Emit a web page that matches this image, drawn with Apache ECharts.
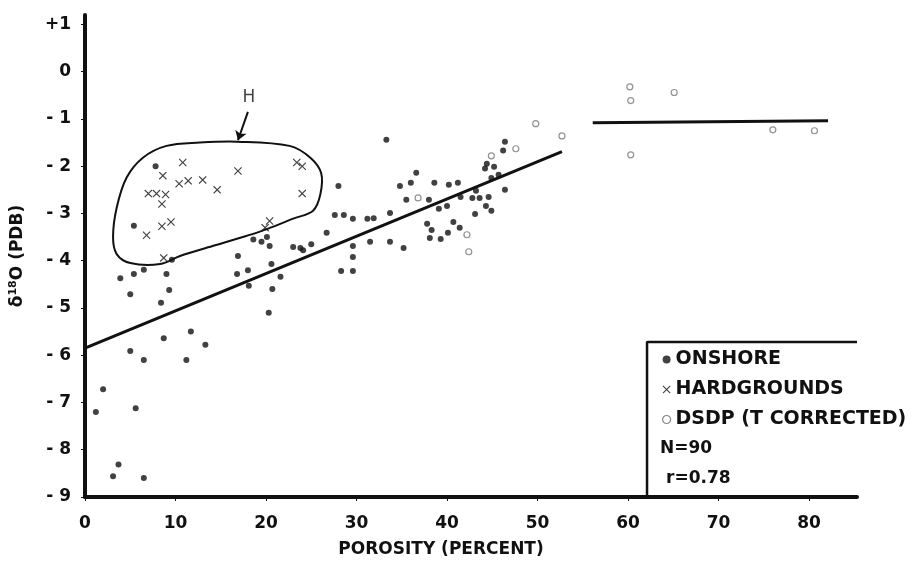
<!DOCTYPE html>
<html>
<head>
<meta charset="utf-8">
<script src="https://cdn.jsdelivr.net/npm/echarts@6/dist/echarts.min.js"></script>
<style>
  html, body { margin: 0; padding: 0; background: #fff; }
  #chart { width: 923px; height: 568px; }
</style>
</head>
<body>
<div id="chart"></div>
<script>
// porosity (%) vs d18O (PDB)
var onshore = [
  [7.8, -2.0], [5.4, -3.26], [9.6, -3.98], [3.9, -4.37], [5.4, -4.28], [6.5, -4.19], [9.0, -4.28],
  [5.0, -4.71], [9.3, -4.62], [16.9, -3.9], [16.8, -4.28], [18.0, -4.2], [18.1, -4.53], [20.6, -4.07],
  [21.6, -4.34], [20.7, -4.6], [18.6, -3.55], [19.5, -3.6], [20.1, -3.5], [20.4, -3.69], [23.0, -3.71],
  [23.8, -3.73], [24.1, -3.78], [25.0, -3.65],
  [8.4, -4.89], [20.3, -5.1], [8.7, -5.64], [11.7, -5.5], [13.3, -5.78], [5.0, -5.91], [6.5, -6.1],
  [11.2, -6.1], [2.0, -6.72], [1.2, -7.2], [5.6, -7.12], [3.7, -8.31], [3.1, -8.56], [6.5, -8.6],
  [33.3, -1.44], [28.0, -2.42], [27.6, -3.03], [28.6, -3.03], [29.6, -3.11], [31.2, -3.11], [31.9, -3.1],
  [33.7, -2.99], [26.7, -3.41], [29.6, -3.69], [29.6, -3.92], [28.3, -4.22], [29.6, -4.22], [31.5, -3.6],
  [33.7, -3.6], [35.2, -3.73], [34.8, -2.42], [36.0, -2.35], [36.6, -2.14], [35.5, -2.71], [38.0, -2.71],
  [38.6, -2.35], [40.2, -2.39], [41.2, -2.35], [39.1, -2.9], [40.0, -2.84], [37.8, -3.22], [38.3, -3.35],
  [40.7, -3.18], [41.4, -3.3], [38.1, -3.52], [39.3, -3.54], [40.1, -3.41], [41.5, -2.65], [42.8, -2.67],
  [43.2, -2.52], [43.6, -2.67], [44.3, -2.84], [44.6, -2.65], [43.1, -3.01], [44.9, -2.94], [46.4, -2.5],
  [44.4, -1.95], [45.2, -2.01], [44.9, -2.25], [45.7, -2.18], [44.2, -2.05], [46.4, -1.48], [46.2, -1.67]
]
var hardgrounds = [
  [10.8, -1.92], [8.6, -2.2], [10.4, -2.37], [11.4, -2.31], [13.0, -2.29], [14.6, -2.5], [16.9, -2.1],
  [7.0, -2.58], [7.9, -2.58], [8.9, -2.6], [8.5, -2.8], [8.5, -3.27], [9.5, -3.18], [6.8, -3.46],
  [23.4, -1.92], [24.0, -2.0], [24.0, -2.58], [20.4, -3.16], [19.9, -3.3], [8.7, -3.94]
]
var dsdp = [
  [36.8, -2.67], [49.8, -1.1], [52.7, -1.36], [47.6, -1.63], [44.9, -1.78], [42.4, -3.81], [42.2, -3.45],
  [60.2, -0.32], [60.3, -0.61], [65.1, -0.44], [76.0, -1.23], [80.6, -1.25], [60.3, -1.76]
]
var fitLine = [[0, -5.85], [52.7, -1.69]]
var dsdpLine = [[56.1, -1.08], [82.1, -1.04]]
// outline "H" round the hardground cluster
var hOutline = [
  [16.8, -1.48], [22.6, -1.57], [24.9, -1.82], [26.1, -2.15], [26.0, -2.6], [25.2, -2.94], [23.0, -3.11],
  [20.1, -3.33], [17.9, -3.47], [14.1, -3.69], [10.5, -3.9], [8.3, -4.07], [5.0, -4.05], [3.5, -3.86],
  [3.1, -3.5], [3.5, -2.88], [4.6, -2.24], [6.4, -1.82], [9.0, -1.57], [12.7, -1.5]
]
var hLabel = [[18.1, -0.55]]
var hArrow = [[18.0, -0.85], [16.9, -1.45]]
var legendFrame = [[62.1, -9], [62.1, -5.72], [85.3, -5.72]]
var statsText = ['N=90', 'r=0.78']
var seriesNames = ['ONSHORE', 'HARDGROUNDS', 'DSDP (T CORRECTED)']

var font = 'DejaVu Sans'
var crossPath = 'path://M0,1L1,0L5,4L9,0L10,1L6,5L10,9L9,10L5,6L1,10L0,9L4,5Z'

var chart = echarts.init(document.getElementById('chart'))
var option = {
  animation: false,
  backgroundColor: '#fff',
  textStyle: { fontFamily: font, color: '#111' },
  grid: { left: 85, right: 66, top: 15, bottom: 71 },
  legend: {
    orient: 'vertical',
    left: 657,
    top: 345,
    itemWidth: 8,
    itemHeight: 8,
    itemGap: 11,
    data: [
      { name: seriesNames[0], icon: 'circle', itemStyle: { color: '#111' } },
      { name: seriesNames[1], icon: crossPath, itemStyle: { color: '#111' } },
      { name: seriesNames[2], icon: 'circle', itemStyle: { color: '#fff', borderColor: '#666', borderWidth: 1.2 } }
    ],
    textStyle: { fontFamily: font, fontSize: 19, fontWeight: 'bold', color: '#111' }
  },
  graphic: [
    { type: 'text', left: 660, top: 440, style: { text: statsText[0], font: 'bold 17px "DejaVu Sans"', fill: '#111' } },
    { type: 'text', left: 666, top: 470, style: { text: statsText[1], font: 'bold 17px "DejaVu Sans"', fill: '#111' } }
  ],
  xAxis: {
    type: 'value',
    min: 0,
    max: 85.3,
    interval: 10,
    name: 'POROSITY (PERCENT)',
    nameLocation: 'middle',
    nameGap: 44,
    nameTextStyle: { fontFamily: font, fontSize: 17, fontWeight: 'bold', color: '#111', padding: [0, 60, 0, 0] },
    axisLine: { onZero: false, lineStyle: { color: '#111', width: 4 } },
    axisTick: { length: 4, lineStyle: { color: '#111' } },
    axisLabel: { showMaxLabel: false, fontFamily: font, fontSize: 17, fontWeight: 'bold', color: '#111', margin: 18 },
    splitLine: { show: false }
  },
  yAxis: {
    type: 'value',
    min: -9,
    max: 1.2,
    interval: 1,
    name: 'δ{sup|18}O (PDB)',
    nameLocation: 'middle',
    nameGap: 58,
    nameTextStyle: {
      fontFamily: font, fontSize: 17, fontWeight: 'bold', color: '#111',
      rich: { sup: { fontFamily: font, fontSize: 11, fontWeight: 'bold', verticalAlign: 'bottom', padding: [0, 0, 8, 0] } }
    },
    axisLine: { onZero: false, lineStyle: { color: '#111', width: 4 } },
    axisTick: { length: 4, lineStyle: { color: '#111' } },
    axisLabel: {
      showMaxLabel: false,
      fontFamily: font, fontSize: 17, fontWeight: 'bold', color: '#111', margin: 14,
      formatter: function (v) {
        if (v > 0) return '+' + v
        if (v < 0) return '- ' + (-v)
        return '0'
      }
    },
    splitLine: { show: false }
  },
  series: [
    {
      name: seriesNames[0],
      type: 'scatter',
      symbol: 'circle',
      symbolSize: 6,
      itemStyle: { color: '#111' },
      data: onshore
    },
    {
      name: seriesNames[1],
      type: 'scatter',
      symbol: crossPath,
      symbolSize: 8,
      itemStyle: { color: '#111' },
      data: hardgrounds
    },
    {
      name: seriesNames[2],
      type: 'scatter',
      symbol: 'circle',
      symbolSize: 6,
      itemStyle: { color: '#fff', borderColor: '#777', borderWidth: 1.2 },
      data: dsdp
    },
    {
      type: 'line',
      data: fitLine,
      symbol: 'none',
      lineStyle: { color: '#111', width: 3 },
      silent: true,
      markLine: {
        silent: true,
        symbol: ['none', 'arrow'],
        symbolSize: 9,
        label: { show: false },
        lineStyle: { color: '#111', width: 2, type: 'solid' },
        data: [[{ coord: hArrow[0] }, { coord: hArrow[1] }]]
      }
    },
    {
      type: 'line',
      data: dsdpLine,
      symbol: 'none',
      lineStyle: { color: '#111', width: 3 },
      silent: true
    },
    {
      type: 'custom',
      silent: true,
      data: [hOutline[0]],
      renderItem: function (params, api) {
        var pts = hOutline.map(function (p) { return api.coord(p) })
        return {
          type: 'polygon',
          shape: { points: pts, smooth: 0.35 },
          style: { fill: 'none', stroke: '#111', lineWidth: 2 }
        }
      }
    },
    {
      type: 'scatter',
      data: hLabel,
      symbolSize: 0,
      silent: true,
      label: {
        show: true,
        position: 'inside',
        formatter: 'H',
        fontFamily: font,
        fontSize: 17,
        color: '#111'
      }
    },
    {
      type: 'line',
      data: legendFrame,
      symbol: 'none',
      lineStyle: { color: '#111', width: 2.5 },
      silent: true
    }
  ]
}
chart.setOption(option)
window.addEventListener('resize', function () {
  chart.resize()
})
</script>
</body>
</html>
